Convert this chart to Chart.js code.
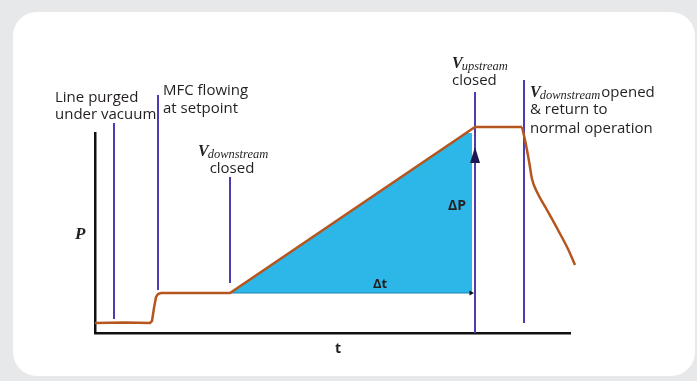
<!DOCTYPE html>
<html>
<head>
<meta charset="utf-8">
<script src="https://cdn.jsdelivr.net/npm/chart.js@4"></script>
<style>
  html, body { margin: 0; padding: 0; background: #e7e8ea; }
  .card { position: absolute; left: 13px; top: 12px; width: 682px; height: 364px; background: #fff; border-radius: 24px; }
  canvas { position: absolute; left: 0; top: 0; }
</style>
</head>
<body>
<div class="card"></div>
<canvas id="pressure-canvas" width="697" height="381"></canvas>
<script>
// time (t) and pressure (P) in arbitrary units
const pressureT = [0, 30, 55, 57, 59, 61, 63, 66, 135, 380, 427];
const pressureP = [10, 10.5, 10, 12, 25, 36, 39, 40, 40, 206, 206];

// pressure once the downstream valve opens again
const releaseT = [427, 430, 434, 437, 442, 452, 463, 473, 480];
const releaseP = [206, 193, 172, 154, 141, 123, 103, 84, 68];

// event markers: time, bottom, top
const markerT = [19, 63, 135, 380, 429];
const markerLow = [14, 43, 50, 0, 10];
const markerHigh = [210, 238, 156, 241, 253];

// accumulation triangle (dP over dt)
const riseT = [135, 377, 377];
const riseP = [40, 204, 40];

const arrowTipP = 178;

const canvas = document.getElementById('pressure-canvas');

const markerColor = '#4a3db3';
const lineColor = '#b5561f';
const textColor = '#231f20';

function arrowHead(w, h, color) {
    const c = document.createElement('canvas');
    c.width = w; c.height = h;
    const g = c.getContext('2d');
    g.fillStyle = color;
    g.beginPath();
    g.moveTo(w / 2, 0);
    g.lineTo(w, h);
    g.lineTo(0, h);
    g.closePath();
    g.fill();
    return c;
}

const datasets = [];

datasets.push({
    label: 'rise',
    data: riseT.map((t, i) => ({ x: t, y: riseP[i] })),
    backgroundColor: '#2db6e8',
    borderWidth: 0,
    pointRadius: 0,
    fill: { value: 40 },
    order: 5
});

datasets.push({
    label: 'dt',
    data: [{ x: riseT[0], y: riseP[0] }, { x: riseT[1] - 1, y: riseP[0] }],
    borderColor: '#1a86b3',
    borderWidth: 1,
    pointRadius: [0, 3],
    pointStyle: 'triangle',
    rotation: 90,
    pointBackgroundColor: '#111',
    pointBorderWidth: 0,
    order: 4
});

markerT.forEach((t, i) => {
    datasets.push({
        label: 'marker' + i,
        data: [{ x: t, y: markerLow[i] }, { x: t, y: markerHigh[i] }],
        borderColor: markerColor,
        borderWidth: 2,
        pointRadius: 0,
        order: 3
    });
});

datasets.push({
    label: 'dP',
    data: [{ x: markerT[3], y: arrowTipP }],
    pointStyle: arrowHead(10, 16, '#1c1850'),
    pointRadius: 8,
    showLine: false,
    order: 2
});

datasets.push({
    label: 'Pressure',
    data: pressureT.map((t, i) => ({ x: t, y: pressureP[i] })),
    borderColor: lineColor,
    borderWidth: 2.5,
    pointRadius: 0,
    tension: 0,
    order: 1
});

datasets.push({
    label: 'Release',
    data: releaseT.map((t, i) => ({ x: t, y: releaseP[i] })),
    borderColor: lineColor,
    borderWidth: 2.5,
    pointRadius: 0,
    cubicInterpolationMode: 'monotone',
    order: 1
});

datasets.forEach(d => { d.clip = false; });

function drawV(ctx, x, y, sub) {
    ctx.font = 'italic bold 16px "Liberation Serif"';
    ctx.fillText('V', x, y);
    const w = ctx.measureText('V').width;
    ctx.font = 'italic 12.5px "Liberation Serif"';
    ctx.fillText(sub, x + w - 1, y + 2);
    return x + w - 1 + ctx.measureText(sub).width;
}

const labelsPlugin = {
    id: 'labels',
    afterDatasetsDraw(chart) {
        const ctx = chart.ctx;
        const xs = chart.scales.x, ys = chart.scales.y;
        const px = t => xs.getPixelForValue(t);
        const py = p => ys.getPixelForValue(p);
        const body = '15px "Open Sans"';
        ctx.save();
        ctx.fillStyle = textColor;
        ctx.textBaseline = 'alphabetic';
        ctx.textAlign = 'left';
        ctx.font = body;
        ctx.fillText('Line purged', px(-40), py(231));
        ctx.fillText('under vacuum', px(-40), py(214));
        ctx.fillText('MFC flowing', px(68), py(238));
        ctx.fillText('at setpoint', px(68), py(220));

        drawV(ctx, px(103), py(177), 'downstream');
        ctx.font = body;
        ctx.textAlign = 'center';
        ctx.fillText('closed', px(137), py(160));

        ctx.textAlign = 'left';
        drawV(ctx, px(357), py(265), 'upstream');
        ctx.font = body;
        ctx.fillText('closed', px(357), py(248));

        const end = drawV(ctx, px(435), py(236), 'downstream');
        ctx.font = body;
        ctx.fillText('opened', end + 1, py(236));
        ctx.fillText('& return to', px(435), py(219));
        ctx.fillText('normal operation', px(435), py(200));

        ctx.font = 'italic bold 17px "Liberation Serif"';
        ctx.fillText('P', px(-20), py(94));

        ctx.font = 'bold 14px "Open Sans"';
        ctx.textAlign = 'center';
        ctx.fillText('t', px(243), py(-20));
        ctx.textAlign = 'left';
        ctx.fillText('\u0394P', px(353), py(123));
        ctx.font = 'bold 13px "Open Sans"';
        ctx.fillText('\u0394t', px(278), py(45));
        ctx.restore();
    }
};

const config = {
    type: 'line',
    data: { datasets },
    options: {
        responsive: false,
        animation: false,
        devicePixelRatio: 1,
        layout: { padding: { left: 95, right: 127, top: 133, bottom: 48 } },
        plugins: {
            legend: { display: false },
            tooltip: { enabled: false }
        },
        scales: {
            x: {
                type: 'linear', min: 0, max: 475,
                grid: { display: false, drawTicks: false },
                ticks: { display: false },
                border: { display: true, color: '#111', width: 2.5 }
            },
            y: {
                type: 'linear', min: 0, max: 200,
                grid: { display: false, drawTicks: false },
                ticks: { display: false },
                border: { display: true, color: '#111', width: 2.5 }
            }
        }
    },
    plugins: [labelsPlugin]
};

new Chart(canvas, config);
</script>
</body>
</html>
